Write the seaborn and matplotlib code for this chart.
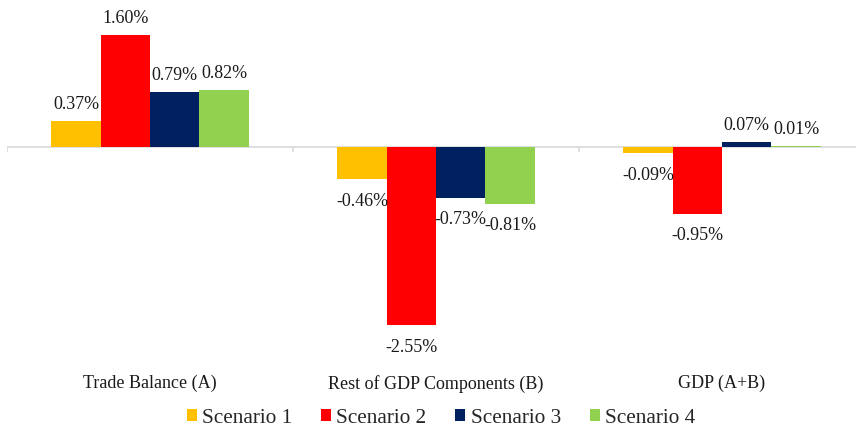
import matplotlib
matplotlib.use("Agg")
import matplotlib.pyplot as plt
import pandas as pd
import seaborn as sns

categories = ["Trade Balance (A)", "Rest of GDP Components (B)", "GDP (A+B)"]
scenarios = ["Scenario 1", "Scenario 2", "Scenario 3", "Scenario 4"]
scenario_1 = [0.37, -0.46, -0.09]
scenario_2 = [1.60, -2.55, -0.95]
scenario_3 = [0.79, -0.73, 0.07]
scenario_4 = [0.82, -0.81, 0.01]
colors = ["#FFC000", "#FF0000", "#002060", "#92D050"]

rows = []
for name, vals in zip(scenarios, [scenario_1, scenario_2, scenario_3, scenario_4]):
    for cat, v in zip(categories, vals):
        rows.append({"category": cat, "scenario": name, "value": v})
df = pd.DataFrame(rows)

sns.set_style("white")
plt.rcParams["font.family"] = ["Liberation Serif", "DejaVu Serif"]

W, H = 856, 431
fig = plt.figure(figsize=(W / 100, H / 100), dpi=100)
# plot area runs slightly past the right edge, like the cropped original
ax = fig.add_axes([7 / W, 1 - 365 / H, (865 - 7) / W, (365 - 20) / H])

sns.barplot(data=df, x="category", y="value", hue="scenario", order=categories,
            hue_order=scenarios, palette=colors, width=0.69, gap=0,
            saturation=1, linewidth=0, ax=ax, legend=True)

ax.set_xlim(-0.5, len(categories) - 0.5)
ax.set_ylim(-(365 - 148) / 70, (148 - 20) / 70)

for container in ax.containers:
    for bar in container:
        v = bar.get_height()
        x = bar.get_x() + bar.get_width() / 2
        off = 12.5 if v >= 0 else -15
        ax.annotate(f"{v:.2f}%", (x, v), xytext=(0, off), textcoords="offset points",
                    ha="center", va="center", fontsize=13, color="#1a1a1a")

ax.axhline(0, color="#D9D9D9", lw=1.2, zorder=0)
ax.vlines([i - 0.5 for i in range(len(categories) + 1)], 0, -0.07,
          color="#D9D9D9", lw=1.2, zorder=0)

for s in ax.spines.values():
    s.set_visible(False)
ax.set_yticks([])
ax.tick_params(axis="x", length=0, pad=7, labelsize=13, labelcolor="#1a1a1a")
ax.set_xlabel("")
ax.set_ylabel("")

handles, labels = ax.get_legend_handles_labels()
ax.legend_.remove()
fig.legend(handles, labels, loc="center", bbox_to_anchor=(441 / W, 1 - 419 / H),
           ncol=4, frameon=False, fontsize=15.3, handlelength=0.48, handleheight=0.48,
           handletextpad=0.25, columnspacing=1.35)

fig.savefig("out.png", dpi=100)
plt.close(fig)
